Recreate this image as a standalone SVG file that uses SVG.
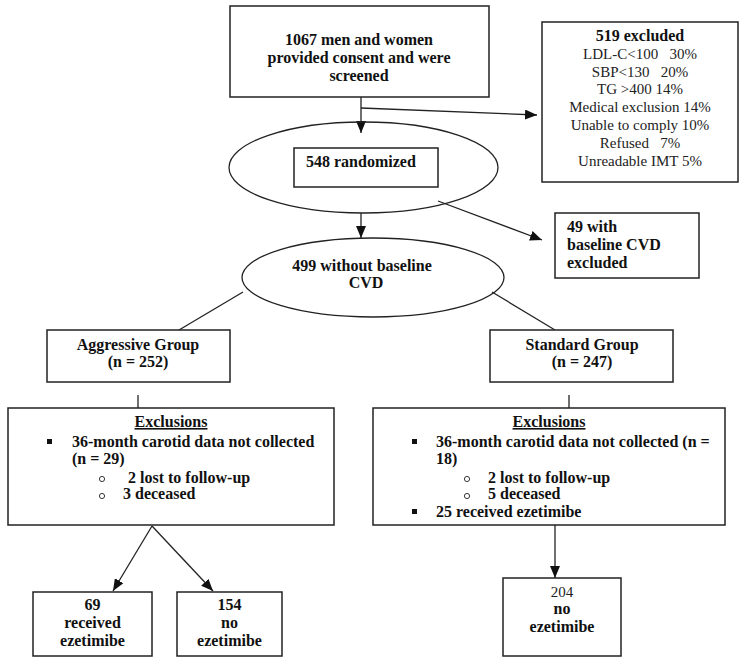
<svg xmlns="http://www.w3.org/2000/svg" width="744" height="663" viewBox="0 0 744 663">
<style>
  .box { fill: #fff; stroke: #222; stroke-width: 1.5; }
  .ell { fill: none; stroke: #222; stroke-width: 1.3; }
  .b { font-family: "Liberation Serif", "Times New Roman", serif; font-weight: bold; font-size: 16px; fill: #111; }
  .r { font-family: "Liberation Serif", "Times New Roman", serif; font-size: 15px; fill: #222; }
  .c { text-anchor: middle; }
  .ln { stroke: #222; stroke-width: 1.3; fill: none; }
  .arr { stroke: #222; stroke-width: 1.3; fill: none; marker-end: url(#ah); }
  .sq { fill: #111; }
  .ci { fill: none; stroke: #222; stroke-width: 0.9; }
</style>
<defs>
  <marker id="ah" markerUnits="userSpaceOnUse" markerWidth="12" markerHeight="10" viewBox="0 0 12 10" refX="12" refY="5" orient="auto">
    <path d="M0,0 L12,5 L0,10 Z" fill="#111"/>
  </marker>
</defs>
<rect width="744" height="663" fill="#fff"/>

<g id="connectors">
  <line class="arr" x1="361" y1="97" x2="361" y2="133"/>
  <line class="arr" x1="361" y1="108" x2="537" y2="115"/>
  <line class="arr" x1="361" y1="213" x2="361" y2="238"/>
  <line class="arr" x1="438" y1="201" x2="542" y2="240"/>
  <line class="ln" x1="243" y1="292" x2="179" y2="330"/>
  <line class="ln" x1="492" y1="292" x2="555" y2="330"/>
  <line class="ln" x1="138" y1="395" x2="138" y2="408"/>
  <line class="ln" x1="569" y1="395" x2="569" y2="408"/>
  <line class="arr" x1="152" y1="526" x2="113" y2="591"/>
  <line class="arr" x1="152" y1="526" x2="213" y2="591"/>
  <line class="arr" x1="555" y1="525" x2="555" y2="578"/>
</g>

<g id="screened">
  <rect class="box" x="230" y="6" width="259" height="91"/>
  <text class="b c" x="359" y="45">1067 men and women</text>
  <text class="b c" x="359" y="63">provided consent and were</text>
  <text class="b c" x="359" y="81">screened</text>
</g>

<g id="excluded519">
  <rect class="box" x="542" y="22" width="196" height="160"/>
  <text class="b c" x="640" y="41">519 excluded</text>
  <text class="r c" x="640" y="59" xml:space="preserve">LDL-C&lt;100   30%</text>
  <text class="r c" x="640" y="77" xml:space="preserve">SBP&lt;130   20%</text>
  <text class="r c" x="640" y="94">TG &gt;400 14%</text>
  <text class="r c" x="640" y="112">Medical exclusion 14%</text>
  <text class="r c" x="640" y="130">Unable to comply 10%</text>
  <text class="r c" x="640" y="148" xml:space="preserve">Refused   7%</text>
  <text class="r c" x="640" y="166">Unreadable IMT 5%</text>
</g>

<g id="randomized">
  <ellipse class="ell" cx="363.5" cy="167.5" rx="134.5" ry="45.5"/>
  <rect class="box" x="294" y="148" width="144" height="39"/>
  <text class="b" x="306" y="167">548 randomized</text>
</g>

<g id="cvdExcluded">
  <rect class="box" x="555" y="213" width="144" height="65"/>
  <text class="b" x="567" y="232">49 with</text>
  <text class="b" x="567" y="250">baseline CVD</text>
  <text class="b" x="567" y="268">excluded</text>
</g>

<g id="withoutCVD">
  <ellipse class="ell" cx="373" cy="277.5" rx="131" ry="39.5"/>
  <text class="b c" x="362" y="271">499 without baseline</text>
  <text class="b c" x="366" y="288">CVD</text>
</g>

<g id="aggressive">
  <rect class="box" x="47" y="330" width="183" height="52"/>
  <text class="b c" x="138" y="350">Aggressive Group</text>
  <text class="b c" x="138" y="367">(n = 252)</text>
</g>

<g id="standard">
  <rect class="box" x="490" y="330" width="183" height="52"/>
  <text class="b c" x="582" y="350">Standard Group</text>
  <text class="b c" x="582" y="367">(n = 247)</text>
</g>

<g id="exclusionsLeft">
  <rect class="box" x="8" y="408" width="326" height="117"/>
  <text class="b c" x="171" y="427" text-decoration="underline">Exclusions</text>
  <rect class="sq" x="47" y="439" width="5" height="5"/>
  <text class="b" x="72" y="447">36-month carotid data not collected</text>
  <text class="b" x="72" y="464">(n = 29)</text>
  <circle class="ci" cx="102" cy="479" r="2.6"/>
  <text class="b" x="128" y="483">2 lost to follow-up</text>
  <circle class="ci" cx="102" cy="496" r="2.6"/>
  <text class="b" x="123" y="499">3 deceased</text>
</g>

<g id="exclusionsRight">
  <rect class="box" x="373" y="408" width="352" height="117"/>
  <text class="b c" x="549" y="427" text-decoration="underline">Exclusions</text>
  <rect class="sq" x="412" y="439" width="5" height="5"/>
  <text class="b" x="436" y="447">36-month carotid data not collected (n =</text>
  <text class="b" x="436" y="464">18)</text>
  <circle class="ci" cx="467" cy="479" r="2.6"/>
  <text class="b" x="488" y="483">2 lost to follow-up</text>
  <circle class="ci" cx="467" cy="496" r="2.6"/>
  <text class="b" x="488" y="499">5 deceased</text>
  <rect class="sq" x="412" y="509" width="5" height="5"/>
  <text class="b" x="436" y="517">25 received ezetimibe</text>
</g>

<g id="received69">
  <rect class="box" x="33" y="592" width="119" height="64"/>
  <text class="b c" x="92.5" y="610">69</text>
  <text class="b c" x="92.5" y="628">received</text>
  <text class="b c" x="92.5" y="646">ezetimibe</text>
</g>

<g id="noEzetimibe154">
  <rect class="box" x="177" y="592" width="105" height="64"/>
  <text class="b c" x="229.5" y="610">154</text>
  <text class="b c" x="229.5" y="628">no</text>
  <text class="b c" x="229.5" y="646">ezetimibe</text>
</g>

<g id="noEzetimibe204">
  <rect class="box" x="503" y="578" width="118" height="78"/>
  <text class="r c" x="562" y="597" font-size="16">204</text>
  <text class="b c" x="562" y="614">no</text>
  <text class="b c" x="562" y="632">ezetimibe</text>
</g>
</svg>
